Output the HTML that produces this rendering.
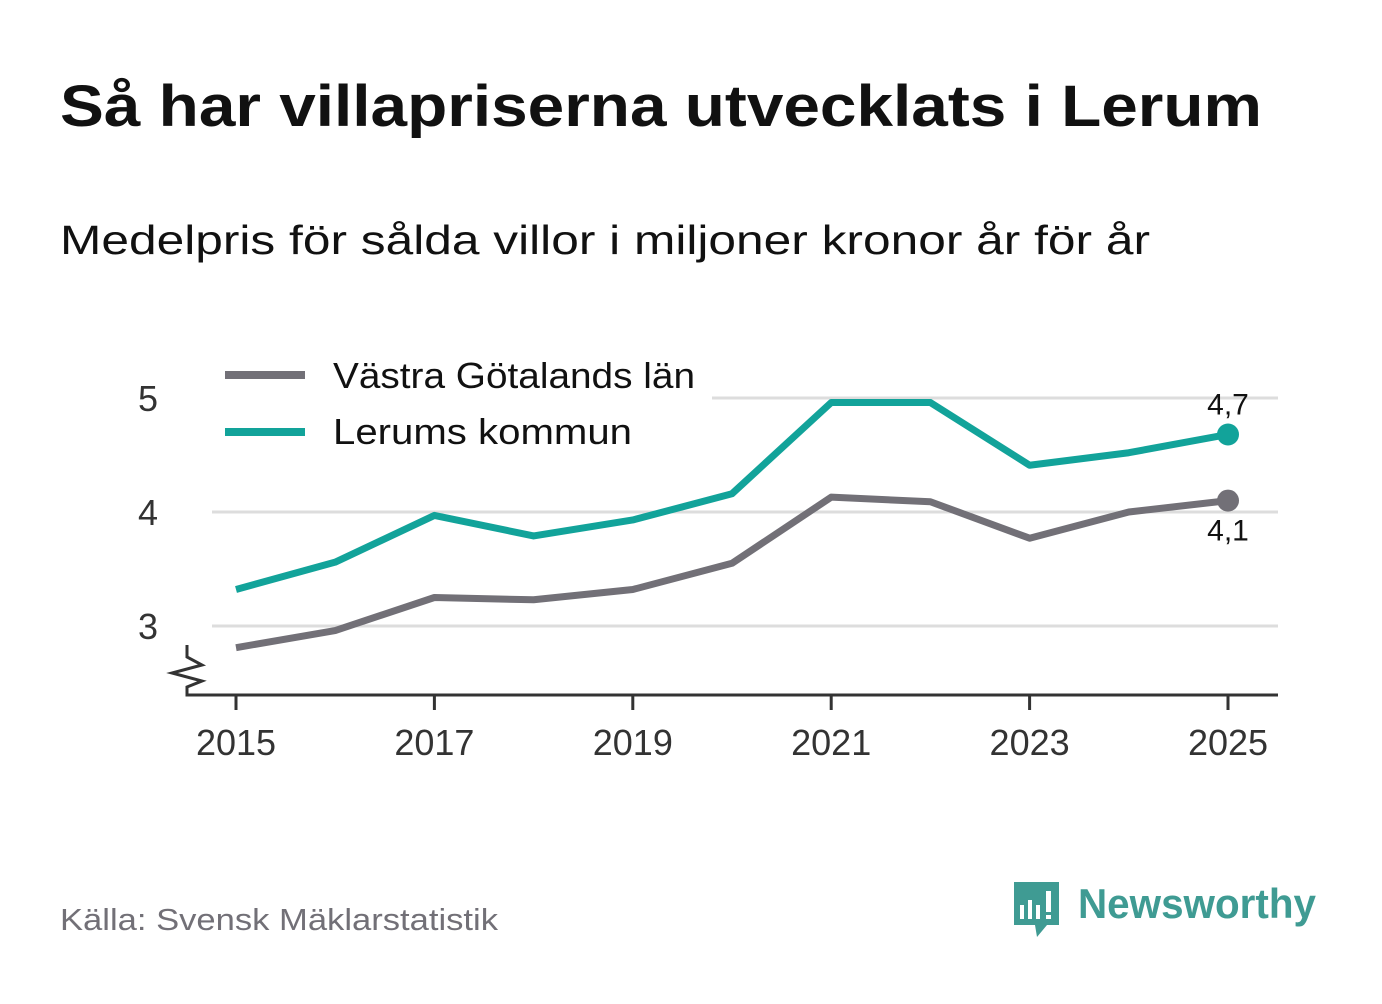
<!DOCTYPE html>
<html><head><meta charset="utf-8"><style>
body{margin:0;background:#fff;width:1382px;height:999px;overflow:hidden;font-family:"Liberation Sans",sans-serif}
</style></head><body>
<svg width="1382" height="999" font-family="Liberation Sans, sans-serif">
<text x="60" y="126" font-size="58" font-weight="bold" fill="#111" textLength="1202" lengthAdjust="spacingAndGlyphs">Så har villapriserna utvecklats i Lerum</text>
<text x="60" y="254" font-size="41" fill="#111" textLength="1090" lengthAdjust="spacingAndGlyphs">Medelpris för sålda villor i miljoner kronor år för år</text>
<g id="grid"></g>
<g id="axes"></g>
<g id="lines"></g>
<g>
<rect x="212" y="355" width="500" height="100" fill="#fff"/>
<line x1="225" y1="375" x2="305" y2="375" stroke="#727077" stroke-width="8"/>
<text x="333" y="388" font-size="36" fill="#111" textLength="362" lengthAdjust="spacingAndGlyphs">Västra Götalands län</text>
<line x1="225" y1="432" x2="305" y2="432" stroke="#12a39a" stroke-width="8"/>
<text x="333" y="444" font-size="36" fill="#111" textLength="299" lengthAdjust="spacingAndGlyphs">Lerums kommun</text>
</g>
<text x="60" y="930" font-size="31" fill="#727077" textLength="438" lengthAdjust="spacingAndGlyphs">Källa: Svensk Mäklarstatistik</text>
<g>
<path d="M1014 882h45v43h-12l-10 12-2-12h-21z" fill="#3f9b93"/>
<rect x="1020" y="905" width="4" height="14" fill="#fff"/><rect x="1028" y="900" width="4" height="19" fill="#fff"/><rect x="1036" y="905" width="4" height="14" fill="#fff"/><rect x="1046" y="891" width="5" height="21" fill="#fff"/><rect x="1046" y="915" width="5" height="4" fill="#fff"/>
<text x="1078" y="918" font-size="42" font-weight="bold" fill="#3f9b93" textLength="238" lengthAdjust="spacingAndGlyphs">Newsworthy</text>
</g>
</svg>
<script>
const years=[2015,2016,2017,2018,2019,2020,2021,2022,2023,2024,2025];
const vgl=[2.81,2.96,3.25,3.23,3.32,3.55,4.13,4.09,3.77,4.0,4.1];
const lerum=[3.32,3.56,3.97,3.79,3.93,4.16,4.96,4.96,4.41,4.52,4.68];
const yTicks=[3,4,5];
const xTicks=[2015,2017,2019,2021,2023,2025];
const endLabels=["4,1","4,7"];
const NS="http://www.w3.org/2000/svg";
const X=v=>236+(v-2015)*99.2;
const Y=v=>626-(v-3)*114;
function mk(p,t,a){const e=document.createElementNS(NS,t);for(const k in a)e.setAttribute(k,a[k]);p.appendChild(e);return e;}
const grid=document.getElementById('grid'),axes=document.getElementById('axes'),lines=document.getElementById('lines');
yTicks.forEach(t=>{
 const l=mk(grid,'line',{x1:212,x2:1278,y1:Y(t),y2:Y(t),stroke:'#ddd','stroke-width':3});
 
 
 const tx=mk(grid,'text',{x:158,y:Y(t)+13,'font-size':36,fill:'#333','text-anchor':'end'});tx.textContent=t;
 
 
});
const ax=mk(axes,'path',{d:'M187 645V657L202 665L172 673L202 681L187 687V695H1278',fill:'none',stroke:'#333','stroke-width':3});


xTicks.forEach(t=>{
 const l=mk(axes,'line',{x1:X(t),x2:X(t),y1:695,y2:710,stroke:'#333','stroke-width':3});
 
 
 const tx=mk(axes,'text',{x:X(t),y:755,'font-size':36,fill:'#333','text-anchor':'middle'});tx.textContent=t;
 
 
});
[[vgl,'#727077','vgl',endLabels[0],40],[lerum,'#12a39a','lerum',endLabels[1],-20]].forEach(([d,c,n,lab,dy])=>{
 const p=mk(lines,'polyline',{points:d.map((v,i)=>X(years[i])+','+Y(v)).join(' '),fill:'none',stroke:c,'stroke-width':7,'stroke-linejoin':'round'});
 
 
 const last=d.length-1;
 const cc=mk(lines,'circle',{cx:X(years[last]),cy:Y(d[last]),r:11,fill:c});
 
 
 const tx=mk(lines,'text',{x:X(years[last]),y:Y(d[last])+dy,'font-size':30,fill:'#111','text-anchor':'middle'});tx.textContent=lab;
 
 
});
</script>
</body></html>
